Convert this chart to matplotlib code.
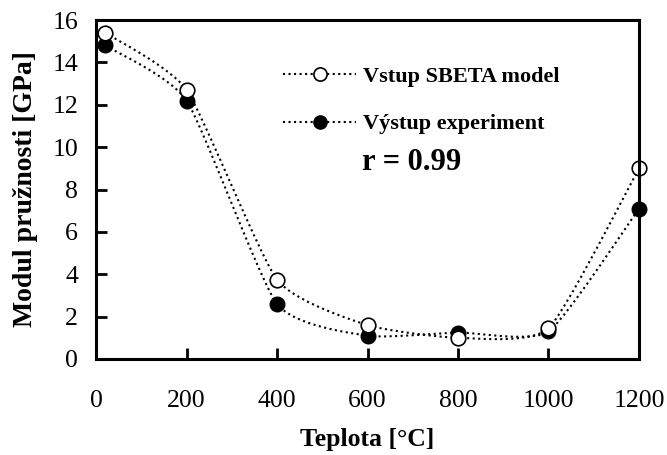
import numpy as np
import matplotlib.pyplot as plt

# data
teplota = [20, 200, 400, 600, 800, 1000, 1200]
sbeta = [15.4, 12.7, 3.75, 1.6, 1.0, 1.45, 9.0]
experiment = [14.8, 12.2, 2.6, 1.1, 1.25, 1.3, 7.1]

plt.rcParams['font.family'] = ['Liberation Serif', 'DejaVu Serif']


def smooth(x, y, tau=0.28, n=30):
    # cardinal spline smoothing (similar to Excel smoothed lines)
    x = np.asarray(x, float)
    y = np.asarray(y, float)
    px = np.concatenate([[x[0]], x, [x[-1]]])
    py = np.concatenate([[y[0]], y, [y[-1]]])
    t = np.linspace(0, 1, n)
    h00 = 2 * t**3 - 3 * t**2 + 1
    h10 = t**3 - 2 * t**2 + t
    h01 = -2 * t**3 + 3 * t**2
    h11 = t**3 - t**2
    xs, ys = [], []
    for i in range(1, len(px) - 2):
        for arr, out in ((px, xs), (py, ys)):
            m1 = tau * (arr[i + 1] - arr[i - 1])
            m2 = tau * (arr[i + 2] - arr[i])
            out.extend(h00 * arr[i] + h10 * m1 + h01 * arr[i + 1] + h11 * m2)
    return np.array(xs), np.array(ys)


fig = plt.figure(figsize=(6.67, 4.55), dpi=100)
ax = fig.add_axes([0.144, 0.211, 0.814, 0.745])

sx, sy = smooth(teplota, sbeta)
ex, ey = smooth(teplota, experiment)
ax.plot(sx, sy, color='black', linestyle=':', linewidth=1.5)
ax.plot(ex, ey, color='black', linestyle=':', linewidth=1.5)
ax.plot(teplota, experiment, linestyle='none', marker='o', markersize=10.5,
        markerfacecolor='black', markeredgecolor='black', clip_on=False)
ax.plot(teplota, sbeta, linestyle='none', marker='o', markersize=10.5,
        markerfacecolor='white', markeredgecolor='black', markeredgewidth=1.2, clip_on=False)

# legend handles
h1, = ax.plot([], [], color='black', linestyle=':', linewidth=1.5, marker='o', markersize=9.5,
              markerfacecolor='white', markeredgecolor='black', markeredgewidth=1.2)
h2, = ax.plot([], [], color='black', linestyle=':', linewidth=1.5, marker='o', markersize=9.5,
              markerfacecolor='black', markeredgecolor='black')
leg = ax.legend([h1, h2], ['Vstup SBETA model', 'Výstup experiment'], loc='upper left',
                bbox_to_anchor=(283 / 667, 1 - 66 / 455), bbox_transform=fig.transFigure,
                frameon=False, numpoints=1, borderpad=0, borderaxespad=0,
                handlelength=3.3, handletextpad=0.3, labelspacing=1.23,
                prop={'weight': 'bold', 'size': 16})
fig.text(362 / 667, 1 - 163 / 455, 'r = 0.99', fontsize=22,
         fontweight='bold', va='center', ha='left')

ax.set_xlim(0, 1200)
ax.set_ylim(0, 16)
ax.set_xticks(range(0, 1201, 200))
ax.set_yticks(range(0, 17, 2))
ax.tick_params(direction='in', length=8, width=2, labelsize=18.5)
ax.tick_params(axis='x', pad=22)
ax.tick_params(axis='y', pad=13)
for s in ax.spines.values():
    s.set_linewidth(2.2)
ax.set_xlabel('Teplota [°C]', fontsize=18.5, fontweight='bold', labelpad=12)
ax.set_ylabel('Modul pružnosti [GPa]', fontsize=20, fontweight='bold', labelpad=10)

fig.savefig('out.png', dpi=100)
